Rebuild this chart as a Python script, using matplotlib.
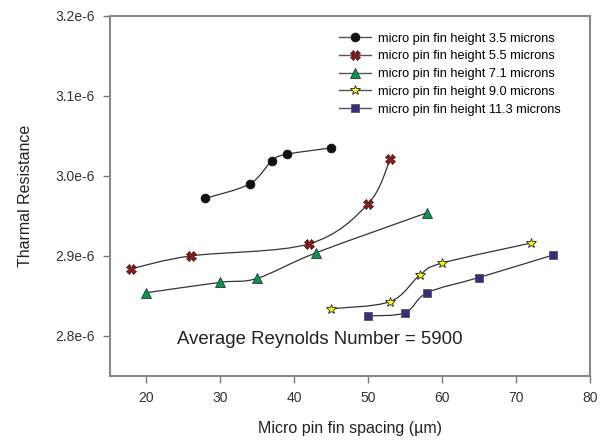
import matplotlib.pyplot as plt
import numpy as np
from matplotlib.path import Path
from matplotlib.patches import PathPatch

plt.rcParams['font.family'] = ['Liberation Sans', 'DejaVu Sans']

# fin spacing (um) and thermal resistance for each fin height
x_35 = [28, 34, 37, 39, 45]
y_35 = [2.972e-6, 2.990e-6, 3.019e-6, 3.027e-6, 3.035e-6]

x_55 = [18, 26, 42, 50, 53]
y_55 = [2.884e-6, 2.900e-6, 2.915e-6, 2.965e-6, 3.021e-6]

x_71 = [20, 30, 35, 43, 58]
y_71 = [2.854e-6, 2.867e-6, 2.872e-6, 2.904e-6, 2.954e-6]

x_90 = [45, 53, 57, 60, 72]
y_90 = [2.834e-6, 2.843e-6, 2.876e-6, 2.891e-6, 2.916e-6]

x_113 = [50, 55, 58, 65, 75]
y_113 = [2.825e-6, 2.829e-6, 2.854e-6, 2.873e-6, 2.901e-6]

labels = ['micro pin fin height 3.5 microns',
          'micro pin fin height 5.5 microns',
          'micro pin fin height 7.1 microns',
          'micro pin fin height 9.0 microns',
          'micro pin fin height 11.3 microns']

xticks = [20, 30, 40, 50, 60, 70, 80]
yticks = [2.8e-6, 2.9e-6, 3.0e-6, 3.1e-6, 3.2e-6]
ytick_labels = ['2.8e-6', '2.9e-6', '3.0e-6', '3.1e-6', '3.2e-6']


def smooth_path(ax, xs, ys, **kw):
    # catmull-rom through the points, drawn as cubic bezier segments
    # (work in display space so the curve shape doesn't depend on units)
    pts = ax.transData.transform(np.column_stack([xs, ys]))
    n = len(pts)
    verts = [pts[0]]
    codes = [Path.MOVETO]
    for i in range(n - 1):
        p0 = pts[i - 1] if i > 0 else pts[i]
        p1 = pts[i]
        p2 = pts[i + 1]
        p3 = pts[i + 2] if i + 2 < n else pts[i + 1]
        c1 = p1 + (p2 - p0) / 6.0
        c2 = p2 - (p3 - p1) / 6.0
        verts += [c1, c2, p2]
        codes += [Path.CURVE4] * 3
    path = Path(verts, codes)
    patch = PathPatch(path, facecolor='none', transform=None, **kw)
    ax.add_patch(patch)


fig = plt.figure(figsize=(6.08, 4.40), dpi=100)
ax = fig.add_axes([0.181, 0.1455, 0.789, 0.8185])
ax.set_xlim(15.1, 80)
ax.set_ylim(2.75e-6, 3.2e-6)

series = [
    (x_35, y_35, dict(marker='o', mfc='#111111', mec='#111111', ms=6.3, mew=0.6)),
    (x_55, y_55, dict(marker='X', mfc='#8b1c1c', mec='#3a0a0a', ms=6.5, mew=0.5)),
    (x_71, y_71, dict(marker='^', mfc='#009a4e', mec='#333333', ms=6.5, mew=0.6)),
    (x_90, y_90, dict(marker='*', mfc='#ffff00', mec='#222222', ms=7.5, mew=0.6)),
    (x_113, y_113, dict(marker='s', mfc='#3a2a80', mec='#555555', ms=6, mew=0.6)),
]

fig.canvas.draw()
handles = []
for (xs, ys, style), lab in zip(series, labels):
    smooth_path(ax, xs, ys, edgecolor='#333333', linewidth=0.9, zorder=2)
    ax.plot(xs, ys, linestyle='none', zorder=3, **style)
    h, = ax.plot([], [], color='#555555', lw=1.0, label=lab, **style)
    handles.append(h)

ax.legend(handles=handles, loc='upper right', frameon=False, fontsize=9.2,
          handlelength=2.5, handletextpad=0.55, labelspacing=0.45,
          bbox_to_anchor=(0.955, 0.975), borderaxespad=0.2)

ax.text(24.2, 2.795e-6, 'Average Reynolds Number = 5900', fontsize=13.4,
        va='center', ha='left', color='#222222')

ax.set_xticks(xticks)
ax.set_yticks(yticks)
ax.set_yticklabels(ytick_labels)
ax.tick_params(direction='out', length=5, width=1, color='#777777',
               labelcolor='#333333', labelsize=10, pad=6)
for s in ax.spines.values():
    s.set_color('#888888')
    s.set_linewidth(1.5)

ax.set_xlabel('Micro pin fin spacing (\u00b5m)', fontsize=11.5, color='#222222', labelpad=11)
ax.set_ylabel('Tharmal Resistance', fontsize=11.5, color='#222222', labelpad=16)

plt.savefig('out.png', dpi=100)
